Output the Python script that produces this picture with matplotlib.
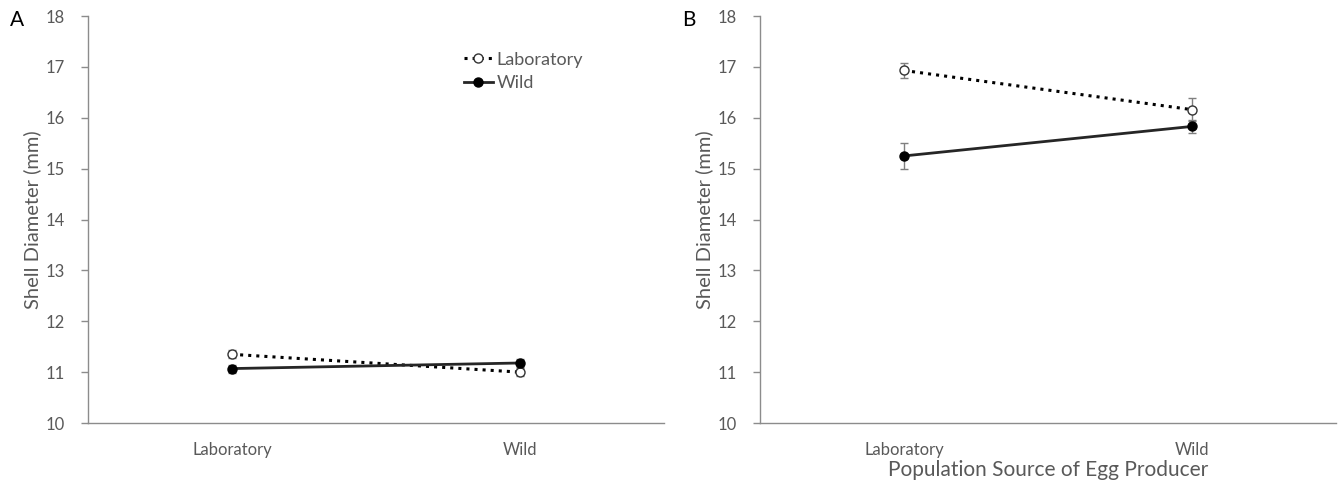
import numpy as np
import matplotlib.pyplot as plt
from matplotlib.lines import Line2D

plt.rcParams['font.family'] = ['Lato', 'DejaVu Sans']

# categories along x
categories = ['Laboratory', 'Wild']

# panel A (means and error)
a_lab = [11.35, 11.00]
a_lab_err = [0.08, 0.08]
a_wild = [11.07, 11.18]
a_wild_err = [0.08, 0.07]

# panel B
b_lab = [16.93, 16.16]
b_lab_err = [0.15, 0.22]
b_wild = [15.25, 15.83]
b_wild_err = [0.26, 0.12]

grey = '#595959'
axis_grey = '#8c8c8c'

fig = plt.figure(figsize=(13.42, 4.86), dpi=100)
ax_a = fig.add_axes([0.0656, 0.1296, 0.4292, 0.8374])
ax_b = fig.add_axes([0.5663, 0.1296, 0.4292, 0.8374])


def draw_panel(ax, lab, lab_err, wild, wild_err):
    x = np.arange(len(categories))
    ax.errorbar(x, lab, yerr=lab_err, color='black', ls=':', lw=2.2,
                marker='o', ms=6.5, mfc='white', mec='#333333', mew=1,
                ecolor='#7f7f7f', elinewidth=1, capsize=3)
    # small dot inside open marker
    ax.plot(x, lab, ls='none', marker='o', ms=2, color='#333333')
    ax.errorbar(x, wild, yerr=wild_err, color='#262626', ls='-', lw=2,
                marker='o', ms=6.5, mfc='black', mec='black',
                ecolor='#7f7f7f', elinewidth=1, capsize=3)
    ax.set_xlim(-0.5, 1.5)
    ax.set_ylim(10, 18)
    ax.set_yticks(range(10, 19))
    ax.set_xticks(x)
    ax.set_xticklabels(categories)
    for s in ['top', 'right']:
        ax.spines[s].set_visible(False)
    for s in ['left', 'bottom']:
        ax.spines[s].set_color(axis_grey)
        ax.spines[s].set_linewidth(1)
    ax.tick_params(axis='y', colors=grey, labelsize=12, length=5, width=1,
                   color=axis_grey, pad=12)
    ax.tick_params(axis='x', colors=grey, labelsize=12, length=0, pad=14)
    ax.set_ylabel('Shell Diameter (mm)', color=grey, fontsize=14.5)
    ax.yaxis.set_label_coords(-0.082, 0.5)


draw_panel(ax_a, a_lab, a_lab_err, a_wild, a_wild_err)
draw_panel(ax_b, b_lab, b_lab_err, b_wild, b_wild_err)

handles = [
    Line2D([], [], color='black', ls=':', lw=2.2, marker='o', ms=6.5,
           mfc='white', mec='#333333'),
    Line2D([], [], color='#262626', ls='-', lw=2, marker='o', ms=6.5,
           mfc='black', mec='black'),
]
leg = ax_a.legend(handles, ['Laboratory', 'Wild'], loc='upper left',
                  bbox_to_anchor=(0.64, 0.93), frameon=False, fontsize=13,
                  handlelength=1.6, handletextpad=0.2, labelspacing=0.4,
                  borderaxespad=0)
for t in leg.get_texts():
    t.set_color(grey)

ax_b.set_xlabel('Population Source of Egg Producer', color=grey, fontsize=15)
ax_b.xaxis.set_label_coords(0.5, -0.09)

fig.text(10 / 1342, 1 - 20 / 486, 'A', fontsize=15, va='center', ha='left')
fig.text(682 / 1342, 1 - 20 / 486, 'B', fontsize=15, va='center', ha='left')

fig.savefig('out.png', dpi=100)
